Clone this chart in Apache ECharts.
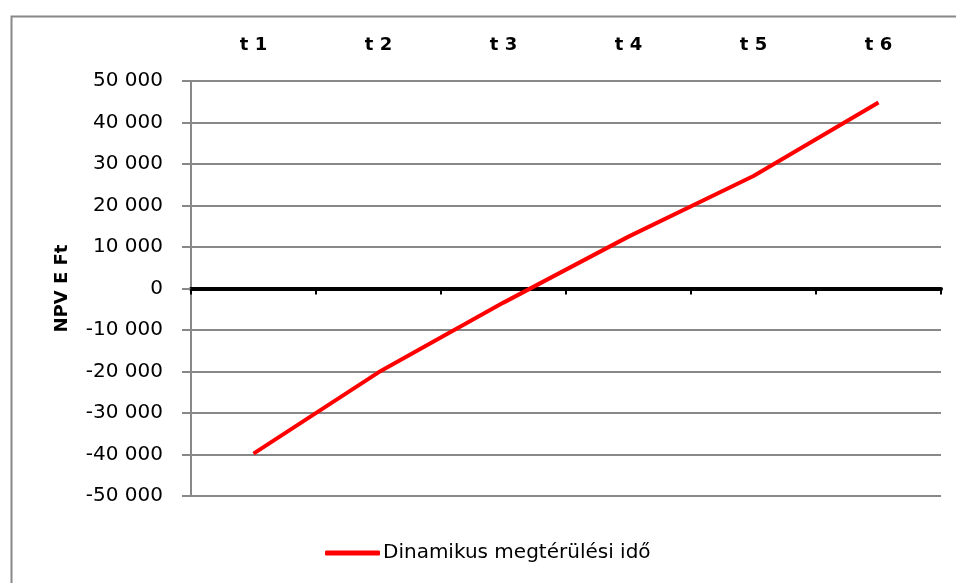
<!DOCTYPE html>
<html><head><meta charset="utf-8">
<script src="https://cdn.jsdelivr.net/npm/echarts@6/dist/echarts.min.js"></script>
<style>html,body{margin:0;padding:0;background:#fff}#c{width:956px;height:583px}</style>
</head><body><div id="c"></div>
<script>
const categories = ['t 1', 't 2', 't 3', 't 4', 't 5', 't 6'];
const npvValues = [-39800, -20200, -3400, 12500, 27100, 44800];
const seriesName = 'Dinamikus megtérülési idő';
const yAxisName = 'NPV E Ft';

const FONT = 'DejaVu Sans';
function fmt(v){
  const s = Math.abs(v).toString().replace(/\B(?=(\d{3})+(?!\d))/g, ' ');
  return (v < 0 ? '-' : '') + s;
}
const chart = echarts.init(document.getElementById('c'));
chart.setOption({
  animation: false,
  backgroundColor: '#fff',
  graphic: [{
    type: 'rect', left: 9, top: 14, silent: true,
    shape: { width: 1000, height: 620 },
    style: { fill: 'none', stroke: '#888', lineWidth: 2 }
  }],
  grid: { left: 191, right: 15, top: 81, bottom: 87 },
  xAxis: [{
    type: 'category', data: categories, position: 'top',
    axisLine: { show: false, onZero: false }, axisTick: { show: false },
    axisLabel: { fontFamily: FONT, fontWeight: 'bold', fontSize: 18, color: '#000', margin: 27 }
  }, {
    type: 'category', data: categories, position: 'bottom',
    axisLine: { onZero: true, lineStyle: { color: '#000', width: 4 } },
    axisTick: { show: true, length: 6, lineStyle: { color: '#000', width: 2 } },
    axisLabel: { show: false }
  }],
  yAxis: {
    type: 'value', min: -50000, max: 50000, interval: 10000,
    name: yAxisName, nameLocation: 'middle', nameGap: 120,
    nameTextStyle: { fontFamily: FONT, fontWeight: 'bold', fontSize: 18, color: '#000' },
    axisLine: { show: true, lineStyle: { color: '#888', width: 2 } },
    axisTick: { show: true, length: 9, lineStyle: { color: '#888', width: 2 } },
    axisLabel: { fontFamily: FONT, fontSize: 20, color: '#000', margin: 28, formatter: fmt },
    splitLine: { show: true, lineStyle: { color: '#888', width: 2 } }
  },
  legend: {
    left: 320, top: 538, itemWidth: 55, itemHeight: 5, itemGap: 4,
    icon: 'roundRect',
    textStyle: { fontFamily: FONT, fontSize: 20, color: '#000', padding: [0,0,0,-2] },
    data: [seriesName]
  },
  series: [{
    name: seriesName, type: 'line', xAxisIndex: 0, data: npvValues,
    symbol: 'none', lineStyle: { color: '#ff0000', width: 4 }, itemStyle: { color: '#ff0000' }
  }]
});
</script></body></html>
